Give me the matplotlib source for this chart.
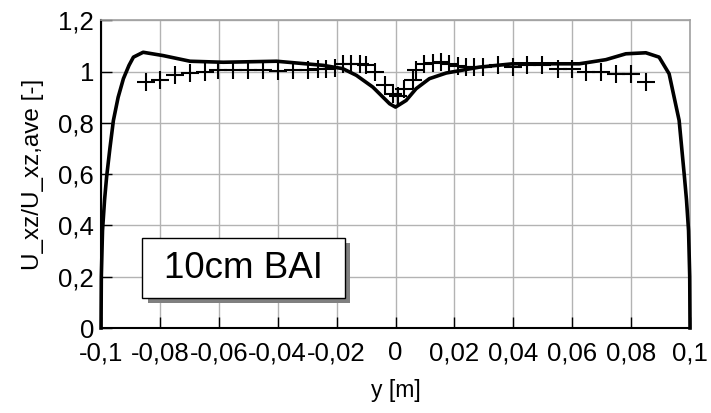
import matplotlib
matplotlib.use("Agg")
import matplotlib.pyplot as plt
from matplotlib.patches import Rectangle
from matplotlib.ticker import FuncFormatter

plt.rcParams['font.family'] = ['Liberation Sans', 'DejaVu Sans']

# simulated profile across the channel
sim_y = [-0.1, -0.09995, -0.0999, -0.0995, -0.0988, -0.0981, -0.097, -0.0958,
         -0.0942, -0.0924, -0.0905, -0.089, -0.0857, -0.0789, -0.0698,
         -0.0585, -0.0404, -0.0246, -0.0179, -0.0133, -0.0077, -0.002, 0.0,
         0.0036, 0.007, 0.0115, 0.0172, 0.0285, 0.0398, 0.051, 0.0624,
         0.0714, 0.0782, 0.085, 0.0895, 0.0929, 0.0963, 0.0981, 0.0988,
         0.0995, 0.0999, 0.09995, 0.1]
sim_u = [0.0, 0.1, 0.2, 0.38, 0.5, 0.59, 0.7, 0.81,
         0.9, 0.973, 1.025, 1.057, 1.076, 1.063, 1.041,
         1.037, 1.041, 1.025, 1.012, 0.986, 0.94, 0.875, 0.862,
         0.888, 0.934, 0.973, 0.995, 1.018, 1.031, 1.031, 1.031,
         1.047, 1.07, 1.074, 1.057, 0.992, 0.81, 0.59, 0.5,
         0.38, 0.2, 0.1, 0.0]

# measured points
meas_y = [-0.0847, -0.08, -0.0749, -0.0698, -0.0647, -0.0602, -0.0551, -0.05,
          -0.045, -0.0399, -0.0348, -0.0297, -0.0263, -0.0235, -0.0207,
          -0.0179, -0.015, -0.0122, -0.0099, -0.0071, -0.0037, -0.0009,
          0.0008, 0.003, 0.0059, 0.007, 0.0098, 0.0127, 0.0155, 0.0183,
          0.0211, 0.024, 0.0268, 0.0296, 0.0347, 0.0398, 0.0448, 0.0499,
          0.055, 0.0599, 0.0646, 0.0697, 0.0748, 0.0799, 0.085]
meas_u = [0.959, 0.969, 0.986, 0.995, 0.999, 1.005, 1.005, 1.005,
          1.005, 1.002, 1.005, 1.007, 1.01, 1.012, 1.015,
          1.031, 1.031, 1.031, 1.025, 1.0, 0.95, 0.914,
          0.905, 0.934, 0.966, 1.005, 1.031, 1.033, 1.037, 1.031,
          1.021, 1.018, 1.018, 1.018, 1.025, 1.018, 1.025, 1.025,
          1.012, 1.012, 0.999, 0.999, 0.992, 0.99, 0.96]

x_ticks = [-0.1, -0.08, -0.06, -0.04, -0.02, 0.0, 0.02, 0.04, 0.06, 0.08, 0.1]
y_ticks = [0.0, 0.2, 0.4, 0.6, 0.8, 1.0, 1.2]
label_text = "10cm BAI"


def comma_fmt(v, pos):
    return ("%g" % round(v, 4)).replace(".", ",")


fig = plt.figure(figsize=(7.11, 4.13), dpi=100)
ax = fig.add_axes([0.1421, 0.2058, 0.8284, 0.7446])

ax.plot(sim_y, sim_u, color="black", lw=2.6, clip_on=False, zorder=4,
        solid_joinstyle="round")
ax.plot(meas_y, meas_u, ls="none", marker="+", ms=13, mew=1.5,
        color="black", zorder=3)

ax.set_xlim(-0.1, 0.1)
ax.set_ylim(0, 1.2)
ax.set_xticks(x_ticks)
ax.set_yticks(y_ticks)
ax.xaxis.set_major_formatter(FuncFormatter(comma_fmt))
ax.yaxis.set_major_formatter(FuncFormatter(comma_fmt))
ax.tick_params(direction="in", length=8, width=1, color="black",
               labelsize=18.5)
ax.tick_params(axis="x", pad=9.5)
ax.tick_params(axis="y", pad=5)
ax.grid(True, color="#b3b3b3", lw=1)
ax.set_axisbelow(True)

for side in ("top", "right"):
    ax.spines[side].set_color("#a0a0a0")
    ax.spines[side].set_linewidth(1.2)
for side in ("left", "bottom"):
    ax.spines[side].set_color("black")
    ax.spines[side].set_linewidth(1.5)

ax.set_xlabel("y [m]", fontsize=16.5, labelpad=10)
ax.set_ylabel("U_xz/U_xz,ave [-]", fontsize=17.5, labelpad=10)

# label box with drop shadow
bx0, bx1, by0, by1 = -0.0861, -0.0173, 0.117, 0.351
ax.add_patch(Rectangle((bx0 + 0.002, by0 - 0.0195), bx1 - bx0, by1 - by0,
                       facecolor="#808080", edgecolor="none", zorder=5))
ax.add_patch(Rectangle((bx0, by0), bx1 - bx0, by1 - by0,
                       facecolor="white", edgecolor="black", lw=1, zorder=6))
ax.text((bx0 + bx1) / 2, (by0 + by1) / 2, label_text, fontsize=26.5,
        ha="center", va="center", zorder=7)

fig.savefig("out.png", dpi=100)
